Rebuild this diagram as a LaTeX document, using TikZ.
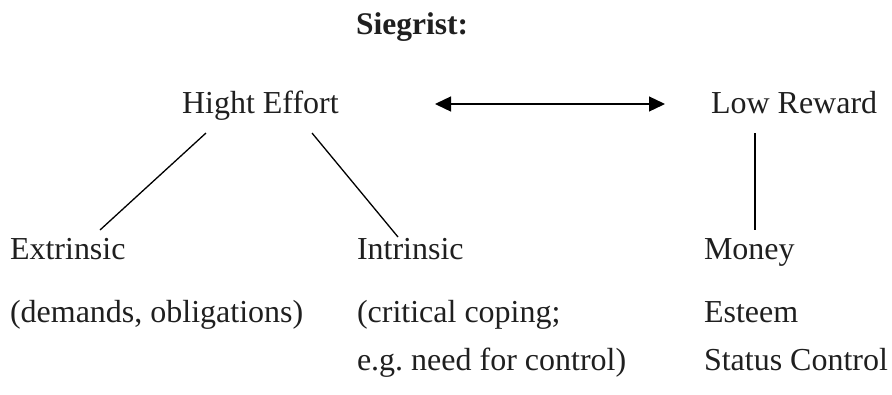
\documentclass[tikz,border=0pt]{standalone}
\usepackage{fontspec}
\setmainfont{Liberation Serif}
\usetikzlibrary{arrows.meta}
\frenchspacing
\tikzset{
  lbl/.style={anchor=base west, inner sep=0pt, outer sep=0pt, font=\fontsize{32}{38}\selectfont, text=black!88},
  ttl/.style={anchor=base, inner sep=0pt, outer sep=0pt, font=\fontsize{31.5}{38}\selectfont\bfseries, text=black!88},
  conn/.style={line width=1.3pt, black},
  dbl/.style={conn, {Triangle[length=16pt,width=15pt]}-{Triangle[length=16pt,width=15pt]}}
}
\begin{document}
\begin{tikzpicture}[x=1pt,y=-1pt]
\useasboundingbox (0,0) rectangle (892,394);
\node[ttl] (title) at (412,34) {Siegrist:};
\node[lbl] (he) at (182,113) {Hight Effort};
\node[lbl] (lr) at (711,113) {Low Reward};
\node[lbl] (ex) at (10,259) {Extrinsic};
\node[lbl] (exd) at (10,322) {(demands, obligations)};
\node[lbl] (in) at (357,259) {Intrinsic};
\node[lbl] (ind) at (357,322) {(critical coping;};
\node[lbl] (ine) at (357,370) {e.g. need for control)};
\node[lbl] (mo) at (704,259) {Money};
\node[lbl] (es) at (704,322) {Esteem};
\node[lbl] (sc) at (704,370) {Status Control};
\coordinate (a1) at (435,104);
\coordinate (a2) at (665,104);
\coordinate (l1) at (206,133);
\coordinate (l2) at (100,230);
\coordinate (r1) at (312,133);
\coordinate (r2) at (398,237);
\coordinate (v1) at (755,133);
\coordinate (v2) at (755,230);
\draw[dbl] (a1) -- (a2);
\draw[conn] (l1) -- (l2);
\draw[conn] (r1) -- (r2);
\draw[conn] (v1) -- (v2);
\end{tikzpicture}
\end{document}
